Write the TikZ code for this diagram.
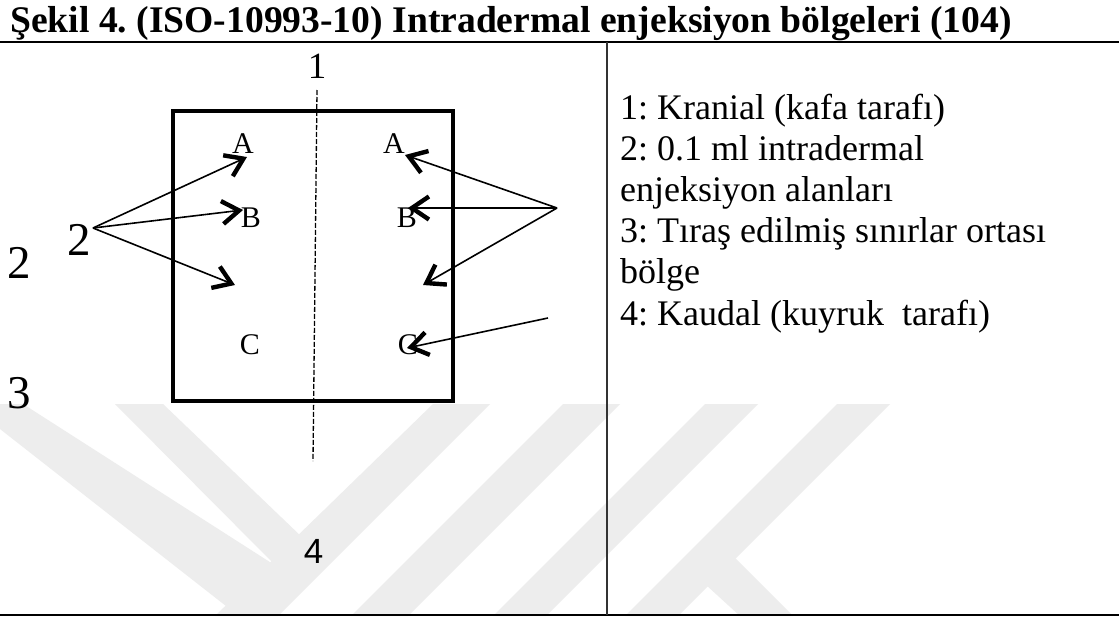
\documentclass[tikz,border=0pt]{standalone}
\usepackage{fontspec}
\setmainfont{Liberation Serif}
\newfontfamily\arialfont{Liberation Sans}
\usetikzlibrary{arrows.meta}
\frenchspacing
\begin{document}
\begin{tikzpicture}[x=1pt,y=-1pt,
  wm/.style={fill=black!7,draw=none},
  rule/.style={line width=1.3pt,draw=black},
  divider/.style={line width=1.6pt,draw=black!80},
  box/.style={line width=4.5pt,draw=black},
  axis/.style={line width=1.3pt,dash pattern=on 5pt off 2pt},
  conn/.style={line width=1.6pt,-{Straight Barb[length=17pt,width=23pt,line width=4.4pt]}},
  site/.style={inner sep=0pt,anchor=base,font=\fontsize{30}{36}\selectfont},
  num/.style={inner sep=0pt,anchor=base,font=\fontsize{47}{56}\selectfont},
  legend/.style={inner sep=0pt,anchor=base west,font=\fontsize{36}{43}\selectfont},
]
\useasboundingbox (0,0) rectangle (1119,616);
\fill[white] (0,0) rectangle (1119,616);
% watermark
\fill[wm] (0,404) -- (23,404) -- (276,566) -- (226,606) -- (0,429) -- cycle;
\fill[wm] (115,404) -- (163,404) -- (305,540) -- (276,566) -- cycle;
\fill[wm] (433,404) -- (490,404) -- (278,616) -- (215,616) -- cycle;
\fill[wm] (563,404) -- (620,404) -- (408,616) -- (351,616) -- cycle;
\fill[wm] (705,404) -- (758,404) -- (546,616) -- (493,616) -- cycle;
\fill[wm] (837,404) -- (890,404) -- (678,616) -- (625,616) -- cycle;
\fill[wm] (705,584) -- (735,558) -- (793,616) -- (740,616) -- cycle;
% title and frame
\node[inner sep=0pt,anchor=base west,font=\fontsize{37.6}{44}\selectfont\bfseries] (title) at (10,32)
  {Şekil 4. (ISO-10993-10) Intradermal enjeksiyon bölgeleri (104)};
\coordinate (hl) at (0,42);
\coordinate (hr) at (1119,42);
\coordinate (bl) at (0,615);
\coordinate (br) at (1119,615);
\coordinate (dt) at (607,42);
\coordinate (db) at (607,615);
\draw[rule] (hl) -- (hr);
\draw[rule] (bl) -- (br);
\draw[divider] (dt) -- (db);
% legend
\node[legend] (l1) at (620,119.5) {1: Kranial (kafa tarafı)};
\node[legend] (l2) at (620,160.6) {2: 0.1 ml intradermal};
\node[legend] (l3) at (620,201.7) {enjeksiyon alanları};
\node[legend] (l4) at (620,242.8) {3: Tıraş edilmiş sınırlar ortası};
\node[legend] (l5) at (620,283.9) {bölge};
\node[legend] (l6) at (620,325) {4: Kaudal (kuyruk\ \ tarafı)};
% shaved area
\node[draw,box,inner sep=0pt,minimum width=280pt,minimum height=290pt] (area) at (313,256) {};
\coordinate (ax1) at (317,90);
\coordinate (ax2) at (313,461);
\draw[axis] (ax1) -- (ax2);
\node[inner sep=0pt,anchor=base,font=\fontsize{37}{44}\selectfont] (n1) at (317,78) {1};
\node[inner sep=0pt,anchor=base,font=\arialfont\fontsize{35}{42}\selectfont] (n4) at (313.5,563) {4};
\node[num] (n2a) at (79,255) {2};
\node[num] (n2b) at (19,278) {2};
\node[num] (n3) at (19,408) {3};
% sites
\node[site] (la) at (243,153) {A};
\node[site] (lb) at (251,227) {B};
\node[site] (lc) at (250,354) {C};
\node[site] (ra) at (394,153) {A};
\node[site] (rb) at (407,227) {B};
\node[site] (rc) at (408,354) {C};
% arrows
\coordinate (fl) at (93,228);
\coordinate (fr) at (557,208);
\coordinate (fc) at (548,318);
\coordinate (tla) at (247,157);
\coordinate (tlb) at (243,210);
\coordinate (tlc) at (235,285);
\coordinate (tra) at (405,155);
\coordinate (trb) at (408,208);
\coordinate (trc) at (423,285);
\coordinate (trd) at (407,348);
\draw[conn] (fl) -- (tla);
\draw[conn] (fl) -- (tlb);
\draw[conn] (fl) -- (tlc);
\draw[conn] (fr) -- (tra);
\draw[conn] (fr) -- (trb);
\draw[conn] (fr) -- (trc);
\draw[conn] (fc) -- (trd);
\end{tikzpicture}
\end{document}
